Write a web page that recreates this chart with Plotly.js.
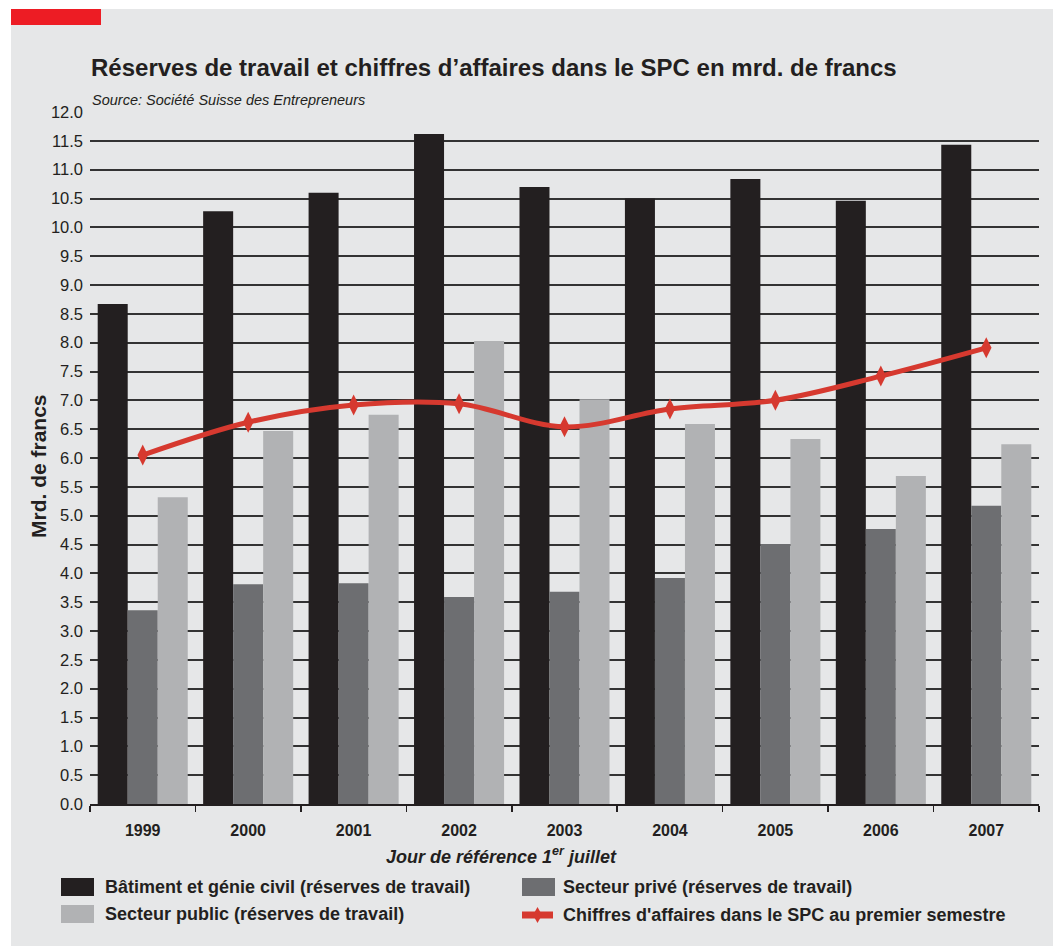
<!DOCTYPE html>
<html>
<head>
<meta charset="utf-8">
<script src="https://cdn.plot.ly/plotly-3.0.1.min.js"></script>
<style>
  html, body { margin: 0; padding: 0; background: #ffffff; overflow: hidden; }
  #chart { position: absolute; left: 11px; top: 9px; width: 1042px; height: 937px; }
</style>
</head>
<body>
<div id="chart"></div>
<script>
// ---- data ----
const years = ['1999', '2000', '2001', '2002', '2003', '2004', '2005', '2006', '2007'];
const batimentValues = [8.67, 10.28, 10.60, 11.62, 10.70, 10.50, 10.84, 10.46, 11.43];
const priveValues = [3.36, 3.81, 3.83, 3.59, 3.68, 3.92, 4.51, 4.77, 5.17];
const publicValues = [5.32, 6.47, 6.75, 8.03, 7.02, 6.59, 6.33, 5.69, 6.24];
const chiffresValues = [6.05, 6.62, 6.92, 6.94, 6.54, 6.85, 7.00, 7.42, 7.91];
const seriesNames = [
  'Bâtiment et génie civil (réserves de travail)',
  'Secteur privé (réserves de travail)',
  'Secteur public (réserves de travail)',
  "Chiffres d'affaires dans le SPC au premier semestre"
];
const yTickValues = [0, 0.5, 1, 1.5, 2, 2.5, 3, 3.5, 4, 4.5, 5, 5.5, 6, 6.5, 7, 7.5, 8, 8.5, 9, 9.5, 10, 10.5, 11, 11.5, 12];
const titleText = 'Réserves de travail et chiffres d’affaires dans le SPC en mrd. de francs';
const subtitleText = 'Source: Société Suisse des Entrepreneurs';
const xTitleText = 'Jour de référence 1<sup>er</sup> juillet';
const yTitleText = 'Mrd. de francs';

// ---- styles ----
const C_BLACK = '#231f20';
const C_DARK = '#6d6e71';
const C_LIGHT = '#b1b2b4';
const C_RED = '#d6392f';
const C_BG = '#e6e7e8';
const FONT = '"Liberation Sans", Arial, Helvetica, sans-serif';

// page-pixel -> paper coordinate helpers (plot area: x 90..1039, y 112..804 on the page)
const PL = 90, PR = 1039, PT = 112, PB = 804;
const px = x => (x - PL) / (PR - PL);
const py = y => (PB - y) / (PB - PT);

const traces = [
  { type: 'bar', name: seriesNames[0], x: years, y: batimentValues, marker: { color: C_BLACK }, showlegend: false, hoverinfo: 'x+y' },
  { type: 'bar', name: seriesNames[1], x: years, y: priveValues, marker: { color: C_DARK }, showlegend: false, hoverinfo: 'x+y' },
  { type: 'bar', name: seriesNames[2], x: years, y: publicValues, marker: { color: C_LIGHT }, showlegend: false, hoverinfo: 'x+y' },
  { type: 'scatter', mode: 'lines+markers', name: seriesNames[3], x: years, y: chiffresValues,
    line: { color: C_RED, width: 5, shape: 'spline', smoothing: 1 },
    marker: { color: C_RED, symbol: 'diamond-tall', size: 15 }, showlegend: false, hoverinfo: 'x+y' }
];

// manual legend (swatches as shapes, texts as annotations)
const legendItems = [
  { kind: 'box', color: C_BLACK, sx: 61, tx: 103, cy: 887, name: seriesNames[0] },
  { kind: 'box', color: C_DARK, sx: 522, tx: 561, cy: 887, name: seriesNames[1] },
  { kind: 'box', color: C_LIGHT, sx: 61, tx: 103, cy: 914, name: seriesNames[2] },
  { kind: 'line', color: C_RED, sx: 522, tx: 561, cy: 915, name: seriesNames[3] }
];

const shapes = [
  { type: 'rect', xref: 'paper', yref: 'paper', x0: px(11), x1: px(101), y0: py(25), y1: py(9),
    fillcolor: '#ed1c24', line: { width: 0 }, layer: 'above' }
];
const annotations = [];
legendItems.forEach(it => {
  if (it.kind === 'box') {
    shapes.push({ type: 'rect', xref: 'paper', yref: 'paper', x0: px(it.sx), x1: px(it.sx + 33),
      y0: py(it.cy + 9), y1: py(it.cy - 9), fillcolor: it.color, line: { width: 0 } });
  } else {
    shapes.push({ type: 'rect', xref: 'paper', yref: 'paper', x0: px(it.sx), x1: px(it.sx + 31),
      y0: py(it.cy + 3.5), y1: py(it.cy - 3.5), fillcolor: it.color, line: { width: 0 } });
    const mx = it.sx + 15.5;
    shapes.push({ type: 'path', xref: 'paper', yref: 'paper',
      path: `M ${px(mx)} ${py(it.cy - 8)} L ${px(mx + 4.5)} ${py(it.cy)} L ${px(mx)} ${py(it.cy + 8)} L ${px(mx - 4.5)} ${py(it.cy)} Z`,
      fillcolor: it.color, line: { width: 0 } });
  }
  annotations.push({ xref: 'paper', yref: 'paper', x: px(it.tx), y: py(it.cy), xanchor: 'left', yanchor: 'middle',
    text: it.name, showarrow: false, font: { family: FONT, size: 18, weight: 700, color: C_BLACK } });
});

annotations.push({ xref: 'paper', yref: 'paper', x: px(90), y: py(100), xanchor: 'left', yanchor: 'middle',
  text: subtitleText, showarrow: false, font: { family: FONT, size: 14.5, style: 'italic', color: C_BLACK } });
annotations.push({ xref: 'paper', yref: 'paper', x: px(501.5), y: py(855), xanchor: 'center', yanchor: 'middle',
  text: xTitleText, showarrow: false, font: { family: FONT, size: 18, weight: 700, style: 'italic', color: C_BLACK } });
annotations.push({ xref: 'paper', yref: 'paper', x: px(38), y: py(466), xanchor: 'center', yanchor: 'middle', textangle: -90,
  text: yTitleText, showarrow: false, font: { family: FONT, size: 21, weight: 700, color: C_BLACK } });

const layout = {
  width: 1042, height: 937,
  autosize: false,
  margin: { l: 79, r: 14, t: 103, b: 142, pad: 0, autoexpand: false },
  paper_bgcolor: C_BG, plot_bgcolor: C_BG,
  title: { text: titleText, xref: 'container', yref: 'container', x: (91 - 11) / 1042, xanchor: 'left',
    y: 1 - (68 - 9) / 937, yanchor: 'middle', font: { family: FONT, size: 24, weight: 700, color: C_BLACK } },
  barmode: 'group', bargap: 0.146, bargroupgap: 0,
  showlegend: false,
  xaxis: {
    type: 'category', range: [-0.5, years.length - 0.5], autorange: false,
    showgrid: false, zeroline: false, automargin: false,
    showline: true, linecolor: C_BLACK, linewidth: 2,
    ticks: 'outside', tickson: 'boundaries', ticklen: 6, tickwidth: 1.5, tickcolor: C_BLACK,
    ticklabelstandoff: 11,
    tickfont: { family: FONT, size: 16, weight: 700, color: C_BLACK }
  },
  yaxis: {
    range: [0, 12], autorange: false, tickvals: yTickValues, tickformat: '.1f', automargin: false,
    showgrid: true, gridcolor: '#333333', gridwidth: 2, zeroline: false, showline: false,
    ticks: '', ticklabelstandoff: 6,
    tickfont: { family: FONT, size: 16.5, color: C_BLACK }
  },
  shapes: shapes,
  annotations: annotations
};

Plotly.newPlot('chart', traces, layout, { displayModeBar: false, staticPlot: true });
</script>
</body>
</html>
